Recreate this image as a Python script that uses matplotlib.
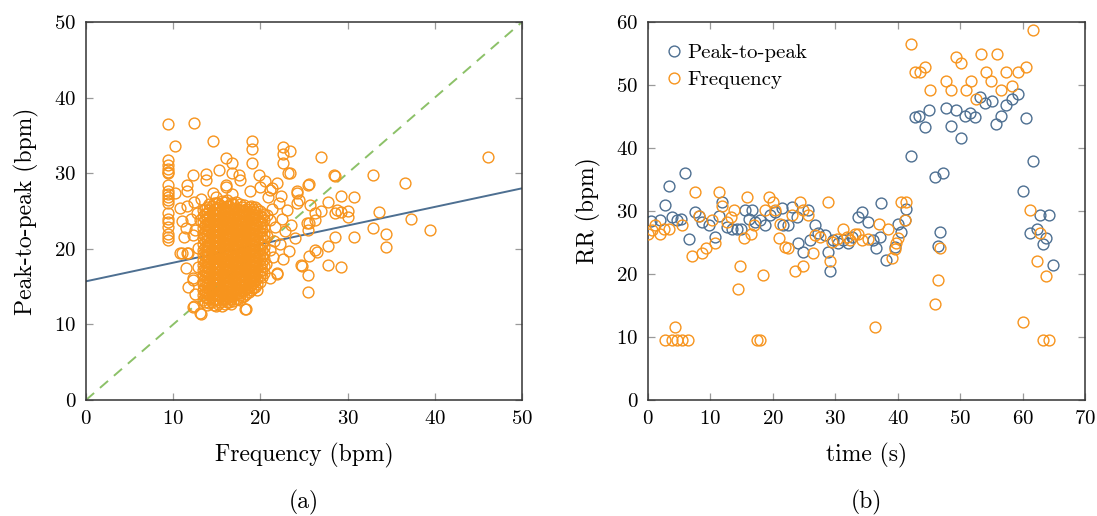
import matplotlib
matplotlib.use("Agg")
import matplotlib.pyplot as plt
import numpy as np

plt.rcParams['font.family'] = ['cmr10', 'DejaVu Serif']
plt.rcParams['mathtext.fontset'] = 'cm'
plt.rcParams['axes.formatter.use_mathtext'] = True

ORANGE = '#F7941D'
BLUE = '#4D6F91'
GREEN = '#8CC168'

# ---------------- (a) scatter: frequency vs peak-to-peak ----------------
# vertical column of low-frequency estimates
col_f = 9.45
col_p = [36.5, 31.7, 31.1, 30.6, 30.2, 30.0, 28.5, 27.6, 27.3, 26.9, 26.5, 26.0,
         24.7, 24.0, 23.6, 22.9, 22.0, 21.5, 21.2]

# sparse points around the main cluster
sparse_f = [12.4, 10.2, 14.6, 16.0, 16.8, 19.0, 19.0, 19.0, 22.6, 23.4, 22.6, 22.6, 27.0, 46.1,
            32.9, 36.6, 28.6, 23.4, 25.5, 24.2, 30.7, 29.2, 27.8, 27.0, 28.6, 29.3, 30.1, 30.0,
            33.6, 37.3, 39.4, 32.9, 34.4, 34.4, 30.7, 28.5, 27.8, 26.3, 25.6, 24.8, 27.8, 29.2,
            25.5, 25.5, 25.6, 25.5, 26.3, 25.7, 12.4, 13.2, 18.2, 10.8, 11.6, 11.5, 12.3, 12.3,
            13.8, 13.8, 11.6, 11.6, 10.2, 14.6, 16.0, 16.7, 17.5, 19.8, 21.9, 21.3, 10.8, 11.6,
            11.5, 12.5, 11.0, 12.4, 13.1, 17.7, 23.2, 28.4, 25.6, 16.1, 16.7, 18.8, 19.9, 21.1,
            20.9, 24.2, 24.4, 28.8, 12.7, 11.2, 12.3, 11.0, 11.7, 12.3, 12.3, 13.1, 22.1, 23.0,
            24.2, 25.3, 26.3, 24.0, 21.1, 21.7, 22.3, 21.1, 21.5, 21.9, 21.1, 24.7, 26.5, 18.4,
            19.6, 21.9, 20.7, 21.3, 22.5, 22.8, 23.5, 20.8, 21.6, 22.6, 20.6, 23.3, 22.4, 20.5,
            15.2, 14.9, 13.2, 12.0, 12.8, 12.9, 12.5, 11.7]
sparse_p = [36.7, 33.6, 34.3, 32.0, 31.4, 34.3, 33.2, 31.3, 33.4, 32.9, 32.5, 31.4, 32.2, 32.1,
            29.7, 28.7, 29.6, 30.0, 28.5, 27.4, 26.8, 27.0, 26.2, 25.0, 24.7, 24.9, 25.0, 24.2,
            24.9, 24.0, 22.5, 22.7, 22.0, 20.2, 21.5, 21.5, 20.4, 19.9, 19.0, 17.7, 17.8, 17.6,
            16.6, 14.3, 23.4, 22.5, 24.7, 25.8, 12.4, 11.4, 12.1, 19.4, 19.5, 17.4, 15.9, 29.8,
            29.1, 29.9, 28.4, 27.6, 27.4, 27.4, 28.4, 30.0, 29.8, 29.8, 28.7, 28.0, 25.4, 25.6,
            22.7, 22.5, 23.7, 26.2, 23.8, 29.1, 30.0, 29.8, 28.6, 28.2, 27.3, 27.6, 28.2, 27.8,
            26.9, 27.6, 26.5, 25.1, 24.7, 21.6, 21.8, 19.4, 19.4, 16.1, 12.3, 11.5, 26.0, 25.1,
            26.0, 23.4, 23.8, 21.4, 23.8, 22.9, 20.7, 19.8, 18.9, 16.7, 16.1, 17.8, 19.6, 12.1,
            14.5, 16.8, 24.5, 25.3, 24.0, 22.4, 23.1, 21.7, 21.0, 18.6, 18.0, 19.7, 27.0, 29.0,
            30.4, 26.8, 26.6, 24.0, 20.1, 17.6, 14.0, 15.0]

# dense cluster, listed column by column (frequency value -> peak-to-peak values)
dense_f = [13.4, 13.9, 14.4, 14.9, 15.4, 15.9, 16.4, 16.9, 17.4, 17.9, 18.4, 18.9, 19.4, 19.9, 20.4]
dense_p = [
    [13.2, 13.9, 14.5, 15.3, 15.8, 16.6, 17.2, 17.9, 18.5, 19.3, 19.9, 20.6, 21.4, 22.0, 22.8, 23.5, 24.3, 25.1],
    [12.6, 13.5, 14.1, 14.8, 15.5, 16.1, 16.9, 17.6, 18.2, 19.0, 19.7, 20.3, 21.1, 21.8, 22.5, 23.2, 24.0, 24.8, 25.5],
    [12.9, 13.6, 14.3, 15.0, 15.7, 16.4, 17.0, 17.8, 18.5, 19.1, 19.8, 20.5, 21.3, 21.9, 22.7, 23.4, 24.1, 24.9, 25.6],
    [12.4, 13.2, 13.9, 14.6, 15.2, 16.0, 16.7, 17.4, 18.0, 18.8, 19.5, 20.1, 20.9, 21.6, 22.3, 23.0, 23.8, 24.5, 25.3, 26.0],
    [13.0, 13.7, 14.4, 15.1, 15.8, 16.5, 17.1, 17.9, 18.6, 19.2, 20.0, 20.7, 21.4, 22.1, 22.9, 23.6, 24.2, 25.0, 25.8],
    [12.7, 13.4, 14.0, 14.8, 15.5, 16.2, 16.9, 17.5, 18.3, 19.0, 19.6, 20.4, 21.1, 21.7, 22.5, 23.2, 23.9, 24.7, 25.4, 26.2],
    [12.9, 13.6, 14.3, 15.0, 15.6, 16.4, 17.1, 17.7, 18.5, 19.2, 19.9, 20.5, 21.3, 22.0, 22.7, 23.4, 24.1, 24.8, 25.6],
    [13.1, 13.8, 14.5, 15.2, 15.9, 16.6, 17.3, 18.0, 18.7, 19.4, 20.1, 20.8, 21.5, 22.2, 22.9, 23.6, 24.4, 25.1, 25.9],
    [13.4, 14.1, 14.7, 15.4, 16.1, 16.8, 17.5, 18.2, 18.9, 19.5, 20.3, 21.0, 21.7, 22.4, 23.1, 23.8, 24.5, 25.3],
    [13.6, 14.4, 15.0, 15.7, 16.4, 17.0, 17.8, 18.4, 19.1, 19.8, 20.5, 21.2, 21.9, 22.6, 23.3, 24.0, 24.8, 25.5],
    [14.0, 14.7, 15.4, 16.1, 16.8, 17.4, 18.1, 18.8, 19.5, 20.2, 20.9, 21.5, 22.3, 23.0, 23.7, 24.5, 25.3],
    [14.5, 15.2, 15.8, 16.5, 17.2, 17.9, 18.6, 19.3, 20.0, 20.6, 21.4, 22.1, 22.8, 23.5, 24.3, 25.0, 25.6],
    [15.0, 15.7, 16.4, 17.1, 17.8, 18.5, 19.2, 19.9, 20.6, 21.3, 22.0, 22.7, 23.4, 24.2, 24.9, 25.5],
    [15.6, 16.4, 17.1, 17.9, 18.6, 19.3, 20.0, 20.8, 21.5, 22.2, 22.9, 23.7, 24.4, 25.0],
    [16.8, 17.7, 18.6, 19.5, 20.3, 21.2, 22.0, 22.9, 23.8, 24.6],
]
# second, interleaved set of columns in the dense cluster
dense2_f = [13.65, 14.15, 14.65, 15.15, 15.65, 16.15, 16.65, 17.15, 17.65, 18.15, 18.65, 19.15, 19.65, 20.15]
dense2_p = [
    [12.9, 13.6, 14.2, 14.9, 15.6, 16.3, 17.0, 17.6, 18.3, 19.0, 19.7, 20.3, 21.0, 21.7, 22.4, 23.1, 23.9, 24.6, 25.3],
    [12.8, 13.3, 14.0, 14.7, 15.3, 16.0, 16.7, 17.4, 18.0, 18.7, 19.4, 20.1, 20.8, 21.5, 22.2, 22.9, 23.6, 24.4, 25.1, 25.9],
    [12.6, 13.4, 14.1, 14.8, 15.4, 16.1, 16.8, 17.5, 18.2, 18.9, 19.6, 20.3, 21.0, 21.6, 22.4, 23.1, 23.8, 24.5, 25.2, 26.0],
    [12.7, 13.4, 14.0, 14.7, 15.5, 16.2, 16.9, 17.6, 18.3, 19.0, 19.6, 20.4, 21.1, 21.8, 22.5, 23.2, 24.0, 24.7, 25.4, 26.1],
    [12.5, 13.3, 14.1, 14.7, 15.4, 16.1, 16.8, 17.6, 18.2, 18.9, 19.6, 20.3, 21.0, 21.8, 22.5, 23.2, 23.9, 24.6, 25.3, 26.3],
    [12.9, 13.7, 14.4, 15.1, 15.8, 16.5, 17.2, 17.9, 18.6, 19.3, 20.0, 20.7, 21.4, 22.1, 22.8, 23.5, 24.2, 25.0, 25.7, 26.4],
    [12.7, 13.3, 14.0, 14.7, 15.4, 16.1, 16.8, 17.5, 18.2, 18.9, 19.6, 20.3, 21.0, 21.7, 22.4, 23.1, 23.8, 24.5, 25.2, 26.0],
    [13.3, 14.0, 14.8, 15.5, 16.2, 16.9, 17.6, 18.3, 19.0, 19.7, 20.4, 21.1, 21.8, 22.5, 23.2, 23.9, 24.7, 25.4, 26.2],
    [13.2, 13.9, 14.6, 15.3, 16.0, 16.7, 17.4, 18.1, 18.8, 19.5, 20.2, 20.9, 21.6, 22.3, 23.0, 23.7, 24.4, 25.1, 25.9],
    [13.8, 14.5, 15.2, 15.9, 16.6, 17.3, 18.0, 18.7, 19.4, 20.1, 20.8, 21.5, 22.2, 22.9, 23.6, 24.3, 25.0, 25.8],
    [14.3, 15.0, 15.7, 16.4, 17.1, 17.8, 18.5, 19.2, 19.9, 20.6, 21.3, 22.0, 22.7, 23.4, 24.1, 24.8, 25.5],
    [14.8, 15.5, 16.2, 16.9, 17.6, 18.3, 19.0, 19.7, 20.4, 21.1, 21.8, 22.5, 23.2, 23.9, 24.6, 25.3],
    [15.4, 16.1, 16.8, 17.5, 18.2, 18.9, 19.6, 20.3, 21.0, 21.7, 22.4, 23.1, 23.8, 24.5, 25.2],
    [16.3, 17.2, 18.1, 19.0, 19.9, 20.7, 21.6, 22.5, 23.4, 24.2],
]

# regression line coefficients (intercept, slope)
reg_intercept = 15.7
reg_slope = 0.246

# ---------------- (b) time series ----------------
p2p_t = [0.5, 1.9, 2.7, 3.3, 3.8, 4.6, 5.3, 5.9, 6.5, 7.5, 8.1, 8.7, 9.7, 10.7, 11.3, 11.8,
         12.6, 13.5, 14.2, 14.9, 15.6, 16.2, 16.7, 17.1, 17.9, 18.7, 19.5, 20.3, 21.4, 21.7,
         22.5, 23.0, 23.8, 24.1, 24.9, 25.7, 25.9, 26.7, 27.3, 28.3, 28.9, 29.2, 29.7, 30.5,
         31.3, 32.1, 32.6, 33.7, 34.2, 35.3, 36.1, 36.5, 37.2, 37.4, 38.2, 39.5, 40.1, 40.6,
         41.1, 41.4, 42.1, 42.7, 43.4, 44.3, 45.0, 45.9, 46.5, 46.8, 47.3, 47.7, 48.5, 49.3,
         50.2, 50.8, 51.6, 52.4, 53.2, 54.0, 55.1, 55.7, 56.5, 57.4, 58.3, 59.2, 60.0, 60.6,
         61.2, 61.6, 62.3, 62.8, 63.3, 63.8, 64.3, 64.8]
p2p_rr = [28.4, 28.5, 31.0, 34.0, 29.1, 28.6, 28.7, 36.1, 25.5, 29.9, 29.2, 28.3, 27.8, 25.8, 29.2, 31.5,
          27.4, 27.1, 27.2, 27.2, 30.1, 28.8, 30.1, 28.3, 28.6, 27.8, 29.4, 29.9, 30.4, 27.8,
          27.8, 30.7, 29.1, 24.9, 23.5, 30.2, 25.4, 27.8, 26.5, 26.2, 23.5, 20.5, 25.4, 24.9,
          25.4, 24.9, 25.9, 29.1, 29.9, 28.3, 25.4, 24.1, 25.9, 31.3, 22.2, 24.3, 27.9, 26.6,
          28.6, 30.3, 38.7, 45.0, 45.1, 43.4, 46.0, 35.4, 24.4, 26.6, 36.0, 46.3, 43.5, 46.0,
          41.6, 45.1, 45.5, 45.0, 48.1, 47.2, 47.5, 43.8, 45.1, 46.8, 47.8, 48.6, 33.2, 44.8,
          26.5, 38.0, 27.1, 29.4, 24.8, 25.7, 29.4, 21.4]

freq_t = [0.0, 0.6, 1.1, 1.9, 2.5, 3.3, 2.7, 3.8, 4.3, 4.7, 5.5, 6.4, 5.4, 7.0, 7.5, 8.1,
          8.6, 9.3, 10.2, 10.7, 11.3, 11.8, 12.6, 13.3, 13.8, 14.4, 14.7, 15.3, 15.8, 16.5,
          16.9, 17.4, 17.9, 18.4, 18.7, 19.4, 20.1, 20.3, 21.0, 21.1, 21.9, 22.4, 23.0, 23.5,
          24.3, 24.9, 24.9, 25.7, 26.4, 26.8, 27.6, 28.9, 29.1, 29.4, 30.3, 31.2, 31.8, 32.4,
          33.2, 33.7, 34.2, 35.3, 36.3, 37.0, 38.5, 39.1, 39.5, 39.8, 40.1, 40.5, 41.1, 41.4,
          42.1, 42.8, 43.6, 44.4, 45.2, 46.0, 46.4, 46.8, 47.8, 48.6, 49.3, 50.1, 50.9, 51.7,
          52.5, 53.3, 54.1, 54.9, 55.9, 56.5, 57.3, 58.3, 59.2, 60.0, 60.6, 61.2, 61.6, 62.3,
          62.8, 63.2, 63.8, 64.2]
freq_rr = [26.3, 27.0, 27.8, 26.3, 27.1, 27.1, 9.5, 9.5, 11.6, 9.5, 9.5, 9.5, 27.8, 22.8, 33.0, 29.2,
           23.4, 24.2, 28.6, 24.9, 33.0, 30.8, 28.3, 29.1, 30.1, 17.6, 21.3, 25.7, 32.3, 26.3,
           27.8, 9.5, 9.5, 19.8, 30.2, 32.3, 31.5, 30.2, 25.7, 28.0, 24.3, 24.2, 29.4, 20.5,
           31.5, 21.3, 30.2, 29.4, 23.4, 26.2, 25.9, 31.5, 22.0, 25.1, 25.6, 27.2, 25.9, 25.4,
           26.3, 26.3, 25.4, 25.5, 11.6, 27.9, 27.1, 22.6, 24.0, 25.0, 25.7, 31.5, 28.6, 31.5,
           56.5, 52.1, 52.1, 52.9, 49.2, 15.3, 19.0, 24.1, 50.6, 49.2, 54.4, 53.5, 49.2, 50.6,
           47.8, 55.0, 52.1, 50.6, 55.0, 49.2, 52.1, 49.9, 52.1, 12.4, 52.8, 30.1, 58.7, 22.0,
           26.5, 9.5, 19.7, 9.5]

W, H = 1097, 516
fig = plt.figure(figsize=(W / 100, H / 100), dpi=100)
axA = fig.add_axes([86 / W, 1 - 400 / H, 436 / W, 378 / H])
axB = fig.add_axes([648 / W, 1 - 400 / H, 437 / W, 378 / H])

mk = dict(marker='o', ls='none', mfc='none', ms=7.8, mew=1.0)
LABEL_FS = 17
TICK_FS = 15

# panel (a)
xs = np.array([0, 50])
axA.plot(xs, xs, ls=(0, (5.5, 4)), color=GREEN, lw=1.4, zorder=1)
axA.plot(xs, reg_intercept + reg_slope * xs, color=BLUE, lw=1.4, zorder=1)
a_f = [col_f] * len(col_p) + list(sparse_f)
a_p = list(col_p) + list(sparse_p)
for fv, plist in list(zip(dense_f, dense_p)) + list(zip(dense2_f, dense2_p)):
    a_f += [fv] * len(plist)
    a_p += plist
axA.plot(a_f, a_p, mec=ORANGE, zorder=2, **mk)
axA.set_xlim(0, 50)
axA.set_ylim(0, 50)
axA.set_xticks(range(0, 51, 10))
axA.set_yticks(range(0, 51, 10))
axA.set_xlabel('Frequency (bpm)', fontsize=LABEL_FS, labelpad=11)
axA.set_ylabel('Peak-to-peak (bpm)', fontsize=LABEL_FS, labelpad=11)
axA.text(0.5, -0.272, '(a)', transform=axA.transAxes, ha='center', va='center', fontsize=LABEL_FS)

# panel (b)
axB.plot(p2p_t, p2p_rr, mec=BLUE, label='Peak-to-peak', zorder=2, **mk)
axB.plot(freq_t, freq_rr, mec=ORANGE, label='Frequency', zorder=3, **mk)
axB.set_xlim(0, 70)
axB.set_ylim(0, 60)
axB.set_xticks(range(0, 71, 10))
axB.set_yticks(range(0, 61, 10))
axB.set_xlabel('time (s)', fontsize=LABEL_FS, labelpad=11)
axB.set_ylabel('RR (bpm)', fontsize=LABEL_FS, labelpad=11)
axB.text(0.5, -0.272, '(b)', transform=axB.transAxes, ha='center', va='center', fontsize=LABEL_FS)
axB.legend(loc='upper left', frameon=False, fontsize=15, handletextpad=0.15,
           handlelength=1.0, borderaxespad=0.35, labelspacing=0.42, bbox_to_anchor=(0.0, 0.985))

for ax in (axA, axB):
    for s in ax.spines.values():
        s.set_color('#333333')
        s.set_linewidth(1.1)
    ax.tick_params(direction='in', top=True, right=True, length=5, width=0.9,
                   color='#9a9a9a', labelsize=TICK_FS, pad=7)

fig.savefig('out.png', dpi=100)
